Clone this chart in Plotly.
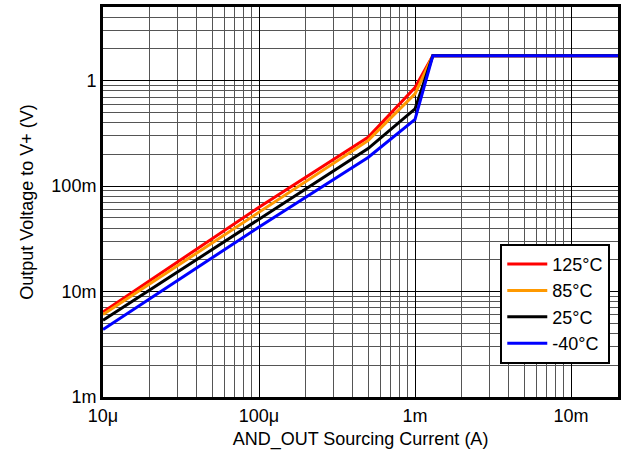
import numpy as np
import plotly.graph_objects as go

# Sourcing current (A)
current = [10e-6, 100e-6, 500e-6, 1e-3, 1.3e-3, 20e-3]

# Output voltage to V+ (V) per temperature
v_125 = [6.4e-3, 63e-3, 0.29, 0.86, 1.72, 1.72]
v_85 = [6.05e-3, 57e-3, 0.27, 0.75, 1.72, 1.72]
v_25 = [5.35e-3, 49e-3, 0.227, 0.54, 1.72, 1.72]
v_m40 = [4.37e-3, 41e-3, 0.187, 0.43, 1.72, 1.72]

series_names = ["125°C", "85°C", "25°C", "-40°C"]
series_colors = ["#FF0000", "#FF9900", "#000000", "#0000FF"]

x_tick_vals = [10e-6, 100e-6, 1e-3, 10e-3]
x_tick_text = ["10\u03bc", "100\u03bc", "1m", "10m"]
y_tick_vals = [1e-3, 10e-3, 100e-3, 1]
y_tick_text = ["1m", "10m", "100m", "1"]

FONT = "Liberation Sans, Arial, sans-serif"
FS = 18


def minor_grid(lo_exp, hi_exp, hi_limit):
    vals = []
    for e in range(lo_exp, hi_exp + 1):
        for d in range(2, 10):
            v = d * 10.0 ** e
            if v <= hi_limit:
                vals.append(v)
    return vals


fig = go.Figure()
for name, color, vals in zip(series_names, series_colors, [v_125, v_85, v_25, v_m40]):
    fig.add_trace(go.Scatter(
        x=current, y=vals, mode="lines", name=name,
        line=dict(color=color, width=3),
    ))

fig.update_layout(
    width=625, height=458,
    margin=dict(l=103, r=4, t=7, b=61),
    paper_bgcolor="white", plot_bgcolor="white",
    font=dict(family=FONT, size=FS, color="black"),
    showlegend=True,
    legend=dict(
        x=0.985, y=0.085, xanchor="right", yanchor="bottom",
        bgcolor="white", bordercolor="black", borderwidth=2,
        font=dict(family=FONT, size=FS, color="black"),
        tracegroupgap=0, itemwidth=40,
    ),
)

fig.update_xaxes(
    type="log", range=[np.log10(10e-6), np.log10(20e-3)],
    tickvals=x_tick_vals, ticktext=x_tick_text, ticks="",
    showline=True, linecolor="black", linewidth=3, mirror=True,
    showgrid=True, gridcolor="black", gridwidth=1,
    minor=dict(tickvals=minor_grid(-5, -2, 20e-3), showgrid=True,
               gridcolor="#555555", gridwidth=1, ticks=""),
    title=dict(text="AND_OUT Sourcing Current (A)", standoff=8,
               font=dict(family=FONT, size=FS)),
    tickfont=dict(family=FONT, size=FS),
)
fig.update_yaxes(
    type="log", range=[np.log10(1e-3), np.log10(5)],
    tickvals=y_tick_vals, ticktext=y_tick_text, ticks="",
    showline=True, linecolor="black", linewidth=3, mirror=True,
    showgrid=True, gridcolor="black", gridwidth=1,
    minor=dict(tickvals=minor_grid(-3, 0, 5), showgrid=True,
               gridcolor="#555555", gridwidth=1, ticks=""),
    title=dict(text="Output Voltage to V+ (V)", standoff=14,
               font=dict(family=FONT, size=FS)),
    tickfont=dict(family=FONT, size=FS),
)

fig.write_html("out.html")
